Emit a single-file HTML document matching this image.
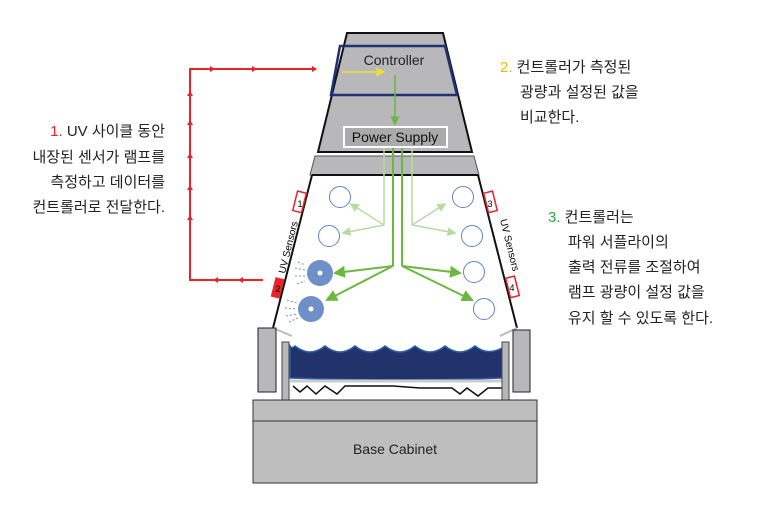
<!DOCTYPE html>
<html><head><meta charset="utf-8"><style>
body{margin:0;background:#fff;}
svg{display:block}
text{font-family:"Liberation Sans","Noto Sans CJK KR",sans-serif;}
.k{font-size:15px;fill:#222}
</style></head><body>
<svg width="758" height="522" viewBox="0 0 758 522" xmlns="http://www.w3.org/2000/svg">
<defs>
<marker id="ag" markerWidth="6" markerHeight="6" refX="5" refY="3" orient="auto"><path d="M0,0 L6,3 L0,6z" fill="#6ab83e"/></marker>
<marker id="al" markerWidth="6" markerHeight="6" refX="5" refY="3" orient="auto"><path d="M0,0 L6,3 L0,6z" fill="#b5dca0"/></marker>
<marker id="ay" markerWidth="6" markerHeight="6" refX="5" refY="3" orient="auto"><path d="M0,0 L6,3 L0,6z" fill="#f0e030"/></marker>
</defs>
<polygon points="347,33 443,33 472,152 318,152" fill="#b8b8ba" stroke="#111" stroke-width="2"/>
<polygon points="340,46 445,46 457,95 331,95" fill="none" stroke="#1f3170" stroke-width="2.5"/>
<text x="394" y="65" font-size="14" text-anchor="middle" fill="#222">Controller</text>
<line x1="342" y1="72" x2="384" y2="72" stroke="#f0e030" stroke-width="1.5" marker-end="url(#ay)"/>
<line x1="395" y1="75" x2="395" y2="124" stroke="#6ab83e" stroke-width="1.5" marker-end="url(#ag)"/>
<rect x="344" y="127" width="103" height="20" fill="#aaa" stroke="#fff" stroke-width="2"/>
<text x="395" y="142" font-size="14" text-anchor="middle" fill="#111">Power Supply</text>
<polygon points="315,156 474,156 479,175 310,175" fill="#b8b8ba" stroke="#555" stroke-width="1"/>
<line x1="312" y1="175" x2="478" y2="175" stroke="#111" stroke-width="2"/>
<line x1="312" y1="175" x2="273" y2="328" stroke="#111" stroke-width="2"/>
<line x1="478" y1="175" x2="517" y2="328" stroke="#111" stroke-width="2"/>
<line x1="273" y1="328" x2="292" y2="336" stroke="#bbb" stroke-width="2"/>
<line x1="517" y1="328" x2="500" y2="336" stroke="#bbb" stroke-width="2"/>
<rect x="295" y="192" width="9" height="20" fill="#fff" stroke="#e8242a" stroke-width="1.5" transform="rotate(14 300 202)"/>
<text x="300" y="207" font-size="9" text-anchor="middle">1</text>
<rect x="273" y="278" width="9" height="20" fill="#e8242a" transform="rotate(14 278 288)"/>
<text x="278" y="292" font-size="9" text-anchor="middle">2</text>
<rect x="486" y="192" width="9" height="20" fill="#fff" stroke="#e8242a" stroke-width="1.5" transform="rotate(-14 490 202)"/>
<text x="490" y="207" font-size="9" text-anchor="middle">3</text>
<rect x="508" y="277" width="9" height="20" fill="#fff" stroke="#e8242a" stroke-width="1.5" transform="rotate(-14 512 287)"/>
<text x="512" y="291" font-size="9" text-anchor="middle">4</text>
<text x="0" y="0" font-size="10" transform="translate(285,274) rotate(-76)">UV Sensors</text>
<text x="0" y="0" font-size="10" transform="translate(500,220) rotate(76)">UV Sensors</text>
<g fill="none" stroke="#5b84c8" stroke-width="1">
<circle cx="340" cy="197" r="10.5"/><circle cx="329" cy="236" r="10.5"/>
<circle cx="463" cy="197" r="10.5"/><circle cx="472" cy="236" r="10.5"/>
<circle cx="474" cy="272" r="10.5"/><circle cx="484" cy="309" r="10.5"/>
</g>
<circle cx="320" cy="273" r="13" fill="#6f8fc8"/><circle cx="320" cy="273" r="2.5" fill="#fff"/>
<circle cx="311" cy="309" r="13" fill="#6f8fc8"/><circle cx="311" cy="309" r="2.5" fill="#fff"/>
<g stroke="#6f8fc8" stroke-dasharray="2,2" stroke-width="1">
<line x1="298" y1="262" x2="305" y2="265"/><line x1="295" y1="268" x2="305" y2="270"/><line x1="295" y1="276" x2="305" y2="276"/><line x1="297" y1="284" x2="305" y2="281"/>
<line x1="287" y1="300" x2="297" y2="303"/><line x1="285" y1="308" x2="297" y2="309"/><line x1="286" y1="316" x2="297" y2="314"/><line x1="289" y1="322" x2="298" y2="318"/>
</g>
<g stroke="#b5dca0" stroke-width="1.5" fill="none">
<polyline points="384,148 384,225"/><line x1="384" y1="225" x2="351" y2="204" marker-end="url(#al)"/><line x1="384" y1="225" x2="343" y2="233" marker-end="url(#al)"/>
<polyline points="412,148 412,225"/><line x1="412" y1="225" x2="445" y2="204" marker-end="url(#al)"/><line x1="412" y1="225" x2="455" y2="233" marker-end="url(#al)"/>
</g>
<g stroke="#6ab83e" stroke-width="2" fill="none">
<polyline points="393,148 393,266"/><polyline points="402,148 402,266"/>
<line x1="393" y1="266" x2="335" y2="273" marker-end="url(#ag)"/><line x1="393" y1="266" x2="327" y2="300" marker-end="url(#ag)"/>
<line x1="402" y1="266" x2="460" y2="273" marker-end="url(#ag)"/><line x1="402" y1="266" x2="472" y2="300" marker-end="url(#ag)"/>
</g>
<polyline points="263,280 190,280 190,69 316,69" fill="none" stroke="#e8242a" stroke-width="2"/>
<path d="M312,66 L317,69 L312,72z M210,66 L215,69 L210,72z M252,66 L257,69 L252,72z M187,96 L190,91 L193,96z M187,125 L190,120 L193,125z M187,158 L190,153 L193,158z M187,190 L190,185 L193,190z M187,220 L190,215 L193,220z M218,277 L213,280 L218,283z M243,277 L238,280 L243,283z" fill="#e8242a"/>
<rect x="258" y="328" width="18" height="64" fill="#b8b8ba" stroke="#222" stroke-width="1"/>
<rect x="513" y="330" width="17" height="62" fill="#b8b8ba" stroke="#222" stroke-width="1"/>
<path d="M290,378 L290,346 q2,3 5,0 q15,12 30,0 q15,12 30,0 q15,12 30,0 q15,12 30,0 q15,12 30,0 q15,12 30,0 q12,10 27,2 L502,378 Q396,382 290,378z" fill="#22336b" stroke="#2a5fa8" stroke-width="1.5"/>
<line x1="290" y1="381" x2="502" y2="381" stroke="#ccc" stroke-width="3"/>
<polyline points="293,386 300,392 307,386 316,394 325,386 337,394 345,386 393,386 420,388 452,388 460,394 467,388 478,396 488,388 502,388" fill="none" stroke="#111" stroke-width="1.5"/>
<rect x="282" y="342" width="7" height="58" fill="#b8b8ba" stroke="#444" stroke-width="1"/>
<rect x="502" y="342" width="7" height="58" fill="#b8b8ba" stroke="#444" stroke-width="1"/>
<rect x="253" y="400" width="284" height="21" fill="#bebebe" stroke="#333" stroke-width="1"/>
<rect x="253" y="421" width="284" height="62" fill="#bebebe" stroke="#333" stroke-width="1"/>
<text x="395" y="454" font-size="14" text-anchor="middle" fill="#222">Base Cabinet</text>
<g class="k" text-anchor="end">
<text x="165" y="136"><tspan fill="#e8242a">1.</tspan> UV 사이클 동안</text>
<text x="165" y="162">내장된 센서가 램프를</text>
<text x="165" y="187">측정하고 데이터를</text>
<text x="165" y="212">컨트롤러로 전달한다.</text>
</g>
<g class="k">
<text x="500" y="72"><tspan fill="#f5b800">2.</tspan> 컨트롤러가 측정된</text>
<text x="520" y="97">광량과 설정된 값을</text>
<text x="520" y="122">비교한다.</text>
<text x="548" y="222"><tspan fill="#2aa84a">3.</tspan> 컨트롤러는</text>
<text x="568" y="247">파워 서플라이의</text>
<text x="568" y="272">출력 전류를 조절하여</text>
<text x="568" y="297">램프 광량이 설정 값을</text>
<text x="568" y="323">유지 할 수 있도록 한다.</text>
</g>
</svg>
</body></html>
